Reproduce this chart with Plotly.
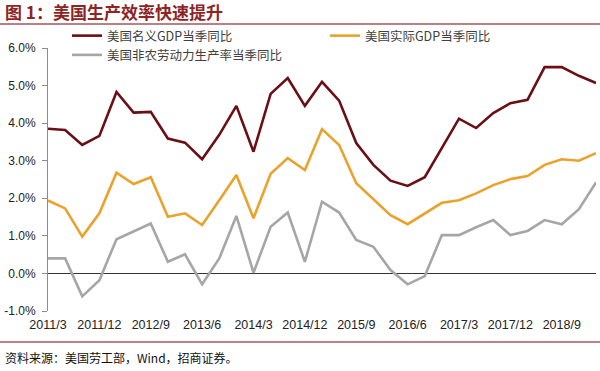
import plotly.graph_objects as go

# ---- data ----
quarters = [f"{y}/{m}" for y in range(2011, 2019) for m in (3, 6, 9, 12)] + ["2019/3"]

nominal_gdp = [3.85, 3.82, 3.42, 3.66, 4.83, 4.28, 4.30, 3.59, 3.48, 3.04, 3.69,
               4.46, 3.24, 4.78, 5.20, 4.46, 5.10, 4.60, 3.47, 2.89, 2.47, 2.33,
               2.56, 3.36, 4.12, 3.87, 4.27, 4.53, 4.62, 5.49, 5.49, 5.26, 5.07]

real_gdp = [1.94, 1.73, 0.98, 1.60, 2.68, 2.38, 2.56, 1.51, 1.60, 1.29, 1.95,
            2.62, 1.47, 2.65, 3.07, 2.75, 3.84, 3.42, 2.40, 1.97, 1.55, 1.31,
            1.60, 1.88, 1.95, 2.13, 2.35, 2.51, 2.59, 2.89, 3.04, 3.00, 3.20]

productivity = [0.40, 0.40, -0.61, -0.18, 0.91, 1.12, 1.33, 0.31, 0.51, -0.29, 0.40,
                1.53, 0.02, 1.24, 1.62, 0.31, 1.91, 1.62, 0.89, 0.71, 0.09, -0.29,
                -0.07, 1.02, 1.02, 1.23, 1.42, 1.02, 1.13, 1.42, 1.31, 1.71, 2.42]

series_names = ["美国名义GDP当季同比", "美国实际GDP当季同比", "美国非农劳动力生产率当季同比"]

x_tick_labels = quarters[::3]
y_tick_vals = [-1, 0, 1, 2, 3, 4, 5, 6]
y_tick_labels = ["-1.0%", "0.0%", "1.0%", "2.0%", "3.0%", "4.0%", "5.0%", "6.0%"]

title_text = "图 1：美国生产效率快速提升"
source_text = "资料来源：美国劳工部，Wind，招商证券。"

# ---- layout geometry (pixels) ----
W, H = 600, 371
L, R, T, B = 48, 4, 48, 60
pw, ph = W - L - R, H - T - B


def px_x(p):
    return (p - L) / pw


def px_y(p):
    return (H - B - p) / ph


CJK = "Noto Sans CJK SC"
LAT = "Liberation Sans, Arial, sans-serif"

fig = go.Figure()
colors = ["#6A0F14", "#EBA22D", "#A6A6A6"]
for name, vals, col in zip(series_names, [nominal_gdp, real_gdp, productivity], colors):
    fig.add_trace(go.Scatter(x=quarters, y=vals, mode="lines", name=name,
                             line=dict(color=col, width=2.6)))

fig.update_layout(
    width=W, height=H,
    margin=dict(l=L, r=R, t=T, b=B),
    paper_bgcolor="white", plot_bgcolor="white",
    showlegend=True,
    legend=dict(orientation="h", x=px_x(67), y=px_y(21), xanchor="left", yanchor="top",
                entrywidth=213, entrywidthmode="pixels",
                font=dict(family=CJK, size=12.5, color="#404040"),
                bgcolor="rgba(0,0,0,0)", itemwidth=30, tracegroupgap=0),
    xaxis=dict(type="category", range=[0, len(quarters) - 1],
               tickmode="array", tickvals=x_tick_labels, ticktext=x_tick_labels,
               showgrid=False, showline=False, zeroline=False, ticks="",
               tickangle=0, ticklabelstandoff=4,
               tickfont=dict(family=LAT, size=12.5, color="#222222")),
    yaxis=dict(range=[-1, 6], tickmode="array", tickvals=y_tick_vals, ticktext=y_tick_labels,
               showgrid=False, showline=True, linecolor="#8C8C8C", linewidth=1,
               ticks="outside", ticklen=5, tickcolor="#8C8C8C",
               zeroline=True, zerolinecolor="#333333", zerolinewidth=1.3,
               ticklabelstandoff=4,
               tickfont=dict(family=LAT, size=12, color="#222222")),
)

# title
fig.add_annotation(text="<b>" + title_text + "</b>", xref="paper", yref="paper",
                   x=px_x(3), y=px_y(12), xanchor="left", yanchor="middle",
                   showarrow=False, font=dict(family=CJK, size=17, color="#8E2424"))
# source
fig.add_annotation(text=source_text, xref="paper", yref="paper",
                   x=px_x(3), y=px_y(357), xanchor="left", yanchor="middle",
                   showarrow=False, font=dict(family=CJK, size=12, color="#111111"))

# separator lines
fig.add_shape(type="line", xref="paper", yref="paper", x0=px_x(0), x1=px_x(600),
              y0=px_y(24), y1=px_y(24), line=dict(color="#A0585C", width=1.5))
fig.add_shape(type="line", xref="paper", yref="paper", x0=px_x(0), x1=px_x(600),
              y0=px_y(342), y1=px_y(342), line=dict(color="#A0585C", width=1.5))

fig.write_html("out.html", config={"displayModeBar": False},
               post_script="document.body.style.margin='0';document.body.style.overflow='hidden';")
